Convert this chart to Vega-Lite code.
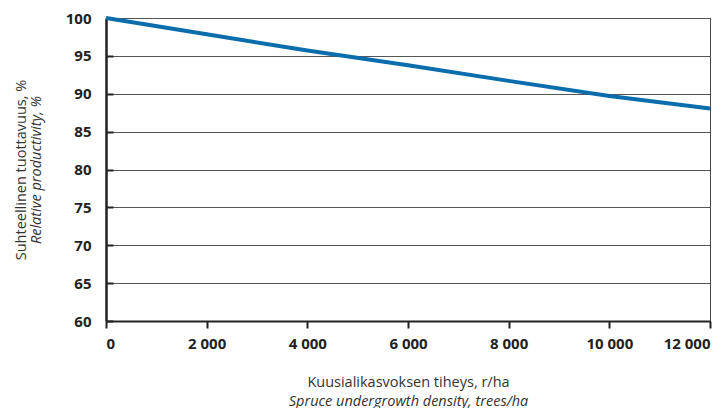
{
  "$schema": "https://vega.github.io/schema/vega-lite/v6.json",
  "width": 604,
  "height": 303,
  "autosize": "none",
  "padding": {"left": 106, "top": 18, "right": 13, "bottom": 87},
  "background": "white",
  "config": {
    "view": {"stroke": "#444", "strokeWidth": 1},
    "font": "Open Sans",
    "axis": {
      "labelFont": "Open Sans",
      "titleFont": "Open Sans",
      "labelFontWeight": "bold",
      "labelFontSize": 15,
      "labelColor": "#222",
      "titleFontSize": 14.5,
      "titleFontWeight": "normal",
      "titleColor": "#333"
    }
  },
  "data": {
    "values": [
      {"x": 0, "y": 100},
      {"x": 2000, "y": 97.85},
      {"x": 4000, "y": 95.7},
      {"x": 6000, "y": 93.75},
      {"x": 8000, "y": 91.7},
      {"x": 10000, "y": 89.7},
      {"x": 12000, "y": 88.05}
    ]
  },
  "layer": [
    {
      "mark": {"type": "line", "color": "#0b6dab", "strokeWidth": 4},
      "encoding": {
        "x": {
          "field": "x", "type": "quantitative",
          "scale": {"domain": [0, 12000], "nice": false},
          "axis": {
            "values": [0, 2000, 4000, 6000, 8000, 10000, 12000],
            "labelExpr": "replace(format(datum.value, ','), ',', ' ')",
            "grid": false,
            "domainColor": "#222", "domainWidth": 2,
            "tickColor": "#222", "tickWidth": 2, "tickSize": 7,
            "labelPadding": 8,
            "title": "Kuusialikasvoksen tiheys, r/ha",
            "titlePadding": 24
          }
        },
        "y": {
          "field": "y", "type": "quantitative",
          "scale": {"domain": [60, 100], "nice": false, "zero": false},
          "axis": {
            "values": [60, 65, 70, 75, 80, 85, 90, 95, 100],
            "grid": true, "gridColor": "#555", "gridWidth": 1,
            "domainColor": "#222", "domainWidth": 2.5,
            "tickColor": "#222", "tickWidth": 2, "tickSize": -7,
            "labelPadding": 22,
            "title": "Relative productivity, %",
            "titleFontStyle": "italic",
            "titlePadding": 22
          }
        }
      }
    },
    {
      "mark": {"type": "line", "opacity": 0},
      "encoding": {
        "x": {
          "field": "x", "type": "quantitative",
          "scale": {"domain": [0, 12000], "nice": false},
          "axis": {
            "orient": "bottom", "labels": false, "ticks": false, "domain": false, "grid": false,
            "title": "Spruce undergrowth density, trees/ha",
            "titleFontStyle": "italic", "titlePadding": 0, "offset": 73
          }
        },
        "y": {
          "field": "y", "type": "quantitative",
          "scale": {"domain": [60, 100], "nice": false, "zero": false},
          "axis": {
            "orient": "left", "labels": false, "ticks": false, "domain": false, "grid": false,
            "title": "Suhteellinen tuottavuus, %",
            "titlePadding": 0, "offset": 78
          }
        }
      }
    }
  ],
  "resolve": {"scale": {"x": "independent", "y": "independent"}, "axis": {"x": "independent", "y": "independent"}}
}
